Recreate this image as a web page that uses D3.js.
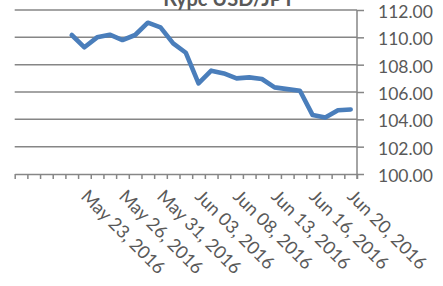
<!DOCTYPE html>
<html>
<head>
<meta charset="utf-8">
<script src="https://cdn.jsdelivr.net/npm/d3@7"></script>
<style>
  body { margin: 0; background: #fff; }
  text { font-family: Lato, "Open Sans", sans-serif; fill: #595959; }
</style>
</head>
<body>
<div id="chart"></div>
<script>
// data
var title = "Курс USD/JPY";
var dates = ["May 16, 2016", "May 17, 2016", "May 18, 2016", "May 19, 2016", "May 20, 2016",
  "May 23, 2016", "May 24, 2016", "May 25, 2016", "May 26, 2016", "May 27, 2016",
  "May 30, 2016", "May 31, 2016", "Jun 01, 2016", "Jun 02, 2016", "Jun 03, 2016",
  "Jun 06, 2016", "Jun 07, 2016", "Jun 08, 2016", "Jun 09, 2016", "Jun 10, 2016",
  "Jun 13, 2016", "Jun 14, 2016", "Jun 15, 2016", "Jun 16, 2016", "Jun 17, 2016",
  "Jun 19, 2016", "Jun 20, 2016"];
var rates = [null, null, null, null, 110.17,
  109.27, 110.00, 110.19, 109.80, 110.17,
  111.07, 110.73, 109.56, 108.87, 106.63,
  107.56, 107.36, 107.00, 107.07, 106.95,
  106.34, 106.21, 106.09, 104.31, 104.14,
  104.67, 104.72];
var shownDates = ["May 23, 2016", "May 26, 2016", "May 31, 2016", "Jun 03, 2016",
  "Jun 08, 2016", "Jun 13, 2016", "Jun 16, 2016", "Jun 20, 2016"];
var yTicks = [100, 102, 104, 106, 108, 110, 112];

var width = 443;
var height = 286;
var margin = {top: 10, right: 86, bottom: 112, left: 14.7};

var svg = d3.select("#chart")
    .append("svg")
    .attr("width", width)
    .attr("height", height);

var x = d3.scaleBand()
    .domain(dates)
    .range([margin.left, width - margin.right])
    .padding(0);

var xEdge = d3.scaleLinear()
    .domain([0, dates.length])
    .range([margin.left, width - margin.right]);

var y = d3.scaleLinear()
    .domain([100, 112])
    .range([height - margin.bottom, margin.top]);

// gridlines
svg.append("g")
  .selectAll("line")
  .data(yTicks.slice(1))
  .join("line")
    .attr("x1", margin.left)
    .attr("x2", width - margin.right)
    .attr("y1", d => y(d))
    .attr("y2", d => y(d))
    .attr("stroke", "#868686")
    .attr("stroke-width", 1.5);

// x axis (ticks between categories)
svg.append("g")
    .attr("transform", `translate(0,${y(100)})`)
    .call(d3.axisBottom(xEdge).tickValues(d3.range(dates.length + 1)).tickFormat("").tickSize(5).tickSizeOuter(0))
    .call(g => g.selectAll("line, path").attr("stroke", "#868686").attr("stroke-width", 1.5));

// y axis on the right
svg.append("g")
    .attr("transform", `translate(${width - margin.right},0)`)
    .call(d3.axisRight(y).tickValues(yTicks).tickFormat(d3.format(".2f")).tickSize(7).tickSizeOuter(0).tickPadding(14))
    .call(g => g.select(".domain").attr("d", `M0,${y(112)}V${y(100) + 5}`))
    .call(g => g.selectAll("line, path").attr("stroke", "#868686").attr("stroke-width", 1.5))
    .call(g => g.selectAll("text")
        .attr("font-family", "Lato")
        .attr("font-size", 17.5)
        .attr("fill", "#595959")
        .attr("dy", "0.42em"));

// x labels
svg.append("g")
  .selectAll("text")
  .data(shownDates)
  .join("text")
    .attr("transform", d => `translate(${x(d) + x.bandwidth() / 2},${y(100) + 19}) rotate(45)`)
    .attr("dy", "0.35em")
    .attr("font-size", 18)
    .text(d => d);

// line
var line = d3.line()
    .defined(d => d.v != null)
    .x(d => x(d.date) + x.bandwidth() / 2)
    .y(d => y(d.v));

svg.append("path")
    .datum(dates.map((d, i) => ({date: d, v: rates[i]})))
    .attr("fill", "none")
    .attr("stroke", "#4a7ebb")
    .attr("stroke-width", 4.6)
    .attr("stroke-linejoin", "round")
    .attr("stroke-linecap", "round")
    .attr("d", line);

// title
svg.append("text")
    .attr("x", 229)
    .attr("y", 6)
    .attr("text-anchor", "middle")
    .attr("font-size", 20)
    .attr("font-weight", "bold")
    .text(title);
</script>
</body>
</html>
